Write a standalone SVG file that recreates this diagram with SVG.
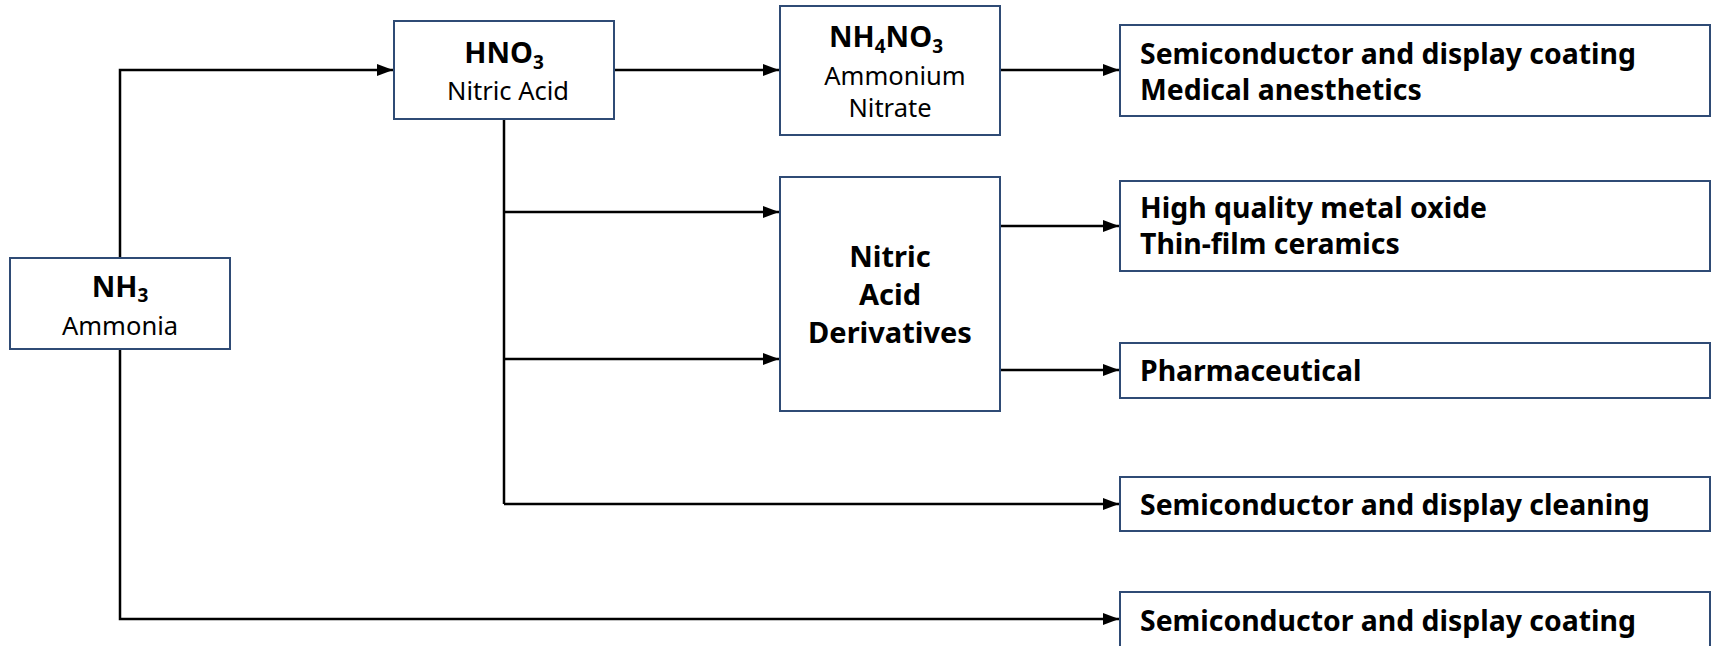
<svg xmlns="http://www.w3.org/2000/svg" width="1712" height="646" viewBox="0 0 1712 646">
<style>
.box{fill:#fff;stroke:#2F4B75;stroke-width:2}
.b{font-family:"Noto Sans","Open Sans",sans-serif;font-weight:bold;font-size:29px;fill:#000}
.u{font-size:28.4px}
.r{font-family:"Noto Sans","Open Sans",sans-serif;font-size:25.5px;fill:#000}
.c{text-anchor:middle}
.sub{font-size:19px}
.ln{fill:none;stroke:#000;stroke-width:2.5}
</style>
<defs>
<marker id="ah" markerUnits="userSpaceOnUse" markerWidth="16" markerHeight="12" refX="16" refY="6" orient="auto">
<path d="M0,0 L16,6 L0,12 z" fill="#000"/>
</marker>
</defs>
<rect width="1712" height="646" fill="#fff"/>
<g id="connectors">
<path class="ln" d="M120,258 V70 H393" marker-end="url(#ah)"/>
<path class="ln" d="M614,70 H779" marker-end="url(#ah)"/>
<path class="ln" d="M1000,70 H1119" marker-end="url(#ah)"/>
<path class="ln" d="M504,119 V504"/>
<path class="ln" d="M504,212 H779" marker-end="url(#ah)"/>
<path class="ln" d="M504,359 H779" marker-end="url(#ah)"/>
<path class="ln" d="M504,504 H1119" marker-end="url(#ah)"/>
<path class="ln" d="M1000,226 H1119" marker-end="url(#ah)"/>
<path class="ln" d="M1000,370 H1119" marker-end="url(#ah)"/>
<path class="ln" d="M120,349 V619 H1119" marker-end="url(#ah)"/>
</g>
<g id="nh3">
<rect class="box" x="10" y="258" width="220" height="91"/>
<text class="b c" x="120" y="297">NH<tspan class="sub" dy="5">3</tspan></text>
<text class="r c" x="120" y="335">Ammonia</text>
</g>
<g id="hno3">
<rect class="box" x="394" y="21" width="220" height="98"/>
<text class="b c" x="504" y="63">HNO<tspan class="sub" dy="6">3</tspan></text>
<text class="r c" x="508" y="100">Nitric Acid</text>
</g>
<g id="nh4no3">
<rect class="box" x="780" y="6" width="220" height="129"/>
<text class="b c" x="886" y="47">NH<tspan class="sub" dy="6">4</tspan><tspan dy="-6">NO</tspan><tspan class="sub" dy="6">3</tspan></text>
<text class="r c" x="895" y="85">Ammonium</text>
<text class="r c" x="890" y="117">Nitrate</text>
</g>
<g id="derivatives">
<rect class="box" x="780" y="177" width="220" height="234"/>
<text class="b c" x="890" y="267">Nitric</text>
<text class="b c" x="890" y="305">Acid</text>
<text class="b c" x="890" y="343">Derivatives</text>
</g>
<g id="use1">
<rect class="box" x="1120" y="25" width="590" height="91"/>
<text class="b u" x="1140" y="64">Semiconductor and display coating</text>
<text class="b u" x="1140" y="100">Medical anesthetics</text>
</g>
<g id="use2">
<rect class="box" x="1120" y="181" width="590" height="90"/>
<text class="b u" x="1140" y="218">High quality metal oxide</text>
<text class="b u" x="1140" y="254">Thin-film ceramics</text>
</g>
<g id="use3">
<rect class="box" x="1120" y="343" width="590" height="55"/>
<text class="b u" x="1140" y="381">Pharmaceutical</text>
</g>
<g id="use4">
<rect class="box" x="1120" y="477" width="590" height="54"/>
<text class="b u" x="1140" y="515">Semiconductor and display cleaning</text>
</g>
<g id="use5">
<rect class="box" x="1120" y="592" width="590" height="70"/>
<text class="b u" x="1140" y="631">Semiconductor and display coating</text>
</g>
</svg>
